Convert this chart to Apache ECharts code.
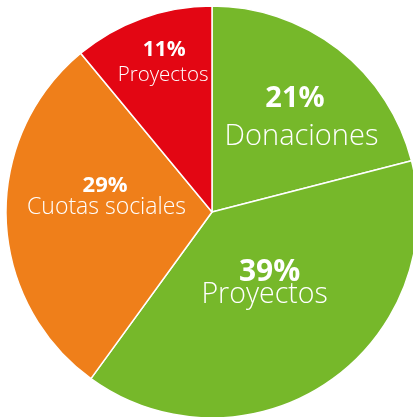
<!DOCTYPE html>
<html><head><meta charset="utf-8">
<script src="https://cdn.jsdelivr.net/npm/echarts@6/dist/echarts.min.js"></script>
<style>html,body{margin:0;padding:0;background:#fff}#c{width:413px;height:417px}</style>
</head><body><div id="c"></div>
<script>
const categories = ['Donaciones', 'Proyectos', 'Cuotas sociales', 'Proyectos'];
const values = [21, 39, 29, 11];
const colors = ['#76b82a', '#76b82a', '#ef7f1a', '#e30613'];
const pctSizes = [29, 30, 22, 21];
const nameSizes = [29, 28.5, 23, 20.5];
const pctLH = [30, 29, 21, 21];
const nameLH = [46, 16, 23, 28];
const offsets = [[21, -7], [-2, -19], [-1, -18], [-13, -48]];
const pctPad = [[0, 6, 0, 0], [0, 0, 0, 0], [0, 0, 0, 0], [0, 0, 0, 2]];
const namePad = [[0, 0, 0, 7], [0, 10, 0, 0], [0, 0, 0, 3], [0, 0, 0, 0]];

const chart = echarts.init(document.getElementById('c'));
chart.setOption({
  animation: false,
  series: [{
    type: 'pie',
    center: [212, 212],
    radius: [0, 206],
    startAngle: 90,
    clockwise: true,
    avoidLabelOverlap: false,
    itemStyle: { borderColor: '#fff', borderWidth: 1.5 },
    label: { position: 'inside', color: '#fff', fontFamily: 'Open Sans' },
    labelLine: { show: false },
    data: values.map((v, i) => ({
      value: v,
      name: categories[i],
      itemStyle: { color: colors[i] },
      label: {
        offset: offsets[i],
        formatter: '{p|{c}%}\n{n|{b}}',
        rich: {
          p: { fontSize: pctSizes[i], fontWeight: 'bold', color: '#fff', fontFamily: 'Open Sans', lineHeight: pctLH[i], padding: pctPad[i] },
          n: { fontSize: nameSizes[i], fontWeight: 300, color: '#fff', fontFamily: 'Open Sans', lineHeight: nameLH[i], padding: namePad[i] }
        }
      }
    }))
  }]
});
</script></body></html>
